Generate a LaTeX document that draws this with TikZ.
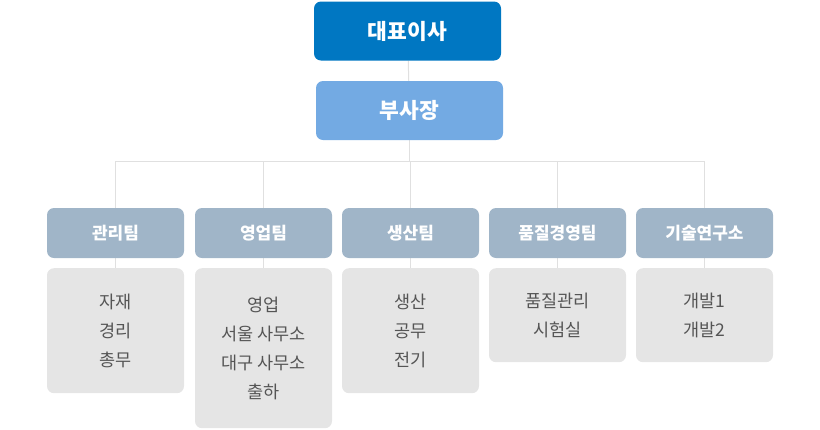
\documentclass[tikz,border=0pt]{standalone}
\usepackage{fontspec}
\setmainfont{Noto Sans CJK KR}
\usetikzlibrary{backgrounds}
\definecolor{ceoblue}{HTML}{0077C2}
\definecolor{vpblue}{HTML}{73AAE3}
\definecolor{teamgray}{HTML}{A0B5C8}
\definecolor{workgray}{HTML}{E5E5E5}
\definecolor{linegray}{HTML}{E0E0E0}
\definecolor{worktext}{HTML}{555555}
\begin{document}
\begin{tikzpicture}[x=1pt,y=-1pt,
  topbox/.style={rounded corners=7pt, text=white, minimum width=187pt, minimum height=59pt, inner sep=0pt, font=\fontsize{21.5}{24}\selectfont\bfseries},
  teambox/.style={rounded corners=7pt, fill=teamgray, text=white, minimum width=137pt, minimum height=50pt, inner sep=0pt, font=\fontsize{17}{19}\selectfont\bfseries},
  workbox/.style={rounded corners=7pt, fill=workgray, text=worktext, minimum width=137pt, anchor=north, inner sep=0pt, align=center, font=\fontsize{17.5}{29}\selectfont},
  link/.style={draw=linegray, line width=1pt}]
\useasboundingbox (0,0) rectangle (820,429);
\node[topbox, fill=ceoblue] (ceo) at (407.5,31) {대표이사};
\node[topbox, fill=vpblue] (vp) at (409.5,110.5) {부사장};
\coordinate (bus) at (0,161);
% teams
\node[teambox] (t1) at (115.5,233) {관리팀};
\node[teambox] (t2) at (263.5,233) {영업팀};
\node[teambox] (t3) at (410.5,233) {생산팀};
\node[teambox] (t4) at (557.5,233) {품질경영팀};
\node[teambox] (t5) at (704.5,233) {기술연구소};
% tasks
\node[workbox, minimum height=125pt] (w1) at (115.5,268) {자재\\경리\\총무};
\node[workbox, minimum height=160pt] (w2) at (263.5,268) {영업\\서울 사무소\\대구 사무소\\출하};
\node[workbox, minimum height=125pt] (w3) at (410.5,268) {생산\\공무\\전기};
\node[workbox, minimum height=94pt] (w4) at (557.5,268) {품질관리\\시험실};
\node[workbox, minimum height=94pt] (w5) at (704.5,268) {개발1\\개발2};
\begin{scope}[on background layer]
\draw[link] (ceo) -- (vp);
\draw[link] (vp) -- (vp |- bus);
\draw[link] (t1 |- bus) -- (t5 |- bus);
\draw[link] (t1 |- bus) -- (w1.north);
\draw[link] (t2 |- bus) -- (w2.north);
\draw[link] (t3 |- bus) -- (w3.north);
\draw[link] (t4 |- bus) -- (w4.north);
\draw[link] (t5 |- bus) -- (w5.north);
\end{scope}
\end{tikzpicture}
\end{document}
